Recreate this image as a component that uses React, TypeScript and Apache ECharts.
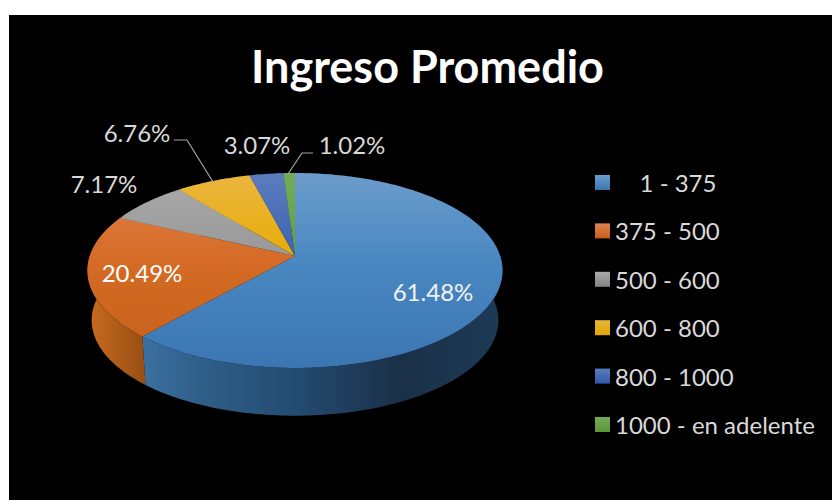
import React, { useEffect, useRef } from "react";
import * as echarts from "echarts";

const categories = ["1 - 375", "375 - 500", "500 - 600", "600 - 800", "800 - 1000", "1000 - en adelente"];
const shares = [61.48, 20.49, 7.17, 6.76, 3.07, 1.02];
const titleText = "Ingreso Promedio";

const FONT = "Lato";
const W = 832;
const H = 500;

const topColors = [
  ["#6c9ccb", "#4a88c2", "#3b76b2"],
  ["#e08250", "#d56b25", "#c5601a"],
  ["#aaaaaa", "#989898", "#828282"],
  ["#eab63f", "#e8ab05", "#e0a400"],
  ["#5c7cbe", "#3a62b0", "#2f58a6"],
  ["#73ab58", "#62a03f", "#5a9638"],
];
const wallStops = [
  [[0, "#3b70a0"], [0.16, "#2f5f88"], [0.44, "#234a6f"], [0.71, "#1a3048"], [1, "#1e3a56"]],
  [[0, "#c96c20"], [0.5, "#b25d1a"], [1, "#9a5014"]],
  [[0, "#6a6a6a"], [1, "#555555"]],
  [[0, "#a87c00"], [1, "#8a6600"]],
  [[0, "#2a4680"], [1, "#223a6a"]],
  [[0, "#44702c"], [1, "#385c24"]],
];
const labelLayout = [
  { x: 433, y: 291, color: "#f2f2f2" },
  { x: 142, y: 272, color: "#ffffff" },
  { x: 104, y: 183, color: "#d9d9d9" },
  { x: 137, y: 132, color: "#d9d9d9" },
  { x: 257, y: 144, color: "#d9d9d9" },
  { x: 352, y: 144, color: "#d9d9d9" },
];
const leaderLines: Record<number, number[][]> = {
  3: [[174, 140], [187, 140], [213, 182]],
  5: [[313, 153], [302, 153], [288, 174]],
};

// Perspective of the disc: apex position, semi axes and foreshortening.
const APEX_X = 295;
const APEX_Y = 256;
const A = 205.2;
const B = 95.3;
const K = -0.1487;
const BOTTOM_SCALE = 0.98;
const BOTTOM_APEX_Y = 306;
const TOP_Y0 = 173;
const TOP_Y1 = 369;

function project(theta: number, radius: number, scale: number, apexY: number) {
  const u = Math.sin(theta) * radius;
  const v = -Math.cos(theta) * radius;
  const d = 1 + K * v;
  return [APEX_X + (scale * A * u) / d, apexY + (scale * B * v) / d];
}

function arcPoints(a0: number, a1: number, scale: number, apexY: number) {
  const n = Math.max(2, Math.ceil(((a1 - a0) * 180) / Math.PI));
  const pts: number[][] = [];
  for (let i = 0; i <= n; i++) pts.push(project(a0 + ((a1 - a0) * i) / n, 1, scale, apexY));
  return pts;
}

const total = shares.reduce((s, v) => s + v, 0);
const startAngles: number[] = [];
shares.reduce((acc, v, i) => {
  startAngles[i] = (acc / total) * Math.PI * 2;
  return acc + v;
}, 0);

export default function App() {
  const ref = useRef<HTMLDivElement>(null);
  useEffect(() => {
    const chart = echarts.init(ref.current!, undefined, { renderer: "svg" });

    const angleRange = (i: number, value: number) => {
      const a0 = startAngles[i];
      return [a0, a0 + (value / total) * Math.PI * 2];
    };

    const wallSeries = shares.map((v, i) => ({
      type: "custom",
      name: "wall-" + i,
      coordinateSystem: "none",
      silent: true,
      z: 2,
      data: [[v]],
      renderItem: (_p: any, api: any) => {
        const [a0, a1] = angleRange(i, api.value(0));
        const upper = arcPoints(a0, a1, 1, APEX_Y);
        const lower = arcPoints(a0, a1, BOTTOM_SCALE, BOTTOM_APEX_Y);
        const x0 = Math.min(...upper.map((p) => p[0]));
        const x1 = Math.max(...upper.map((p) => p[0]));
        const fill = new echarts.graphic.LinearGradient(
          x0, 0, x1, 0,
          wallStops[i].map(([offset, color]) => ({ offset: offset as number, color: color as string })),
          true
        );
        return {
          type: "polygon",
          shape: { points: upper.concat(lower.reverse()) },
          style: { fill },
        };
      },
    }));

    const topSeries = shares.map((v, i) => ({
      type: "custom",
      name: categories[i],
      coordinateSystem: "none",
      silent: true,
      z: 3,
      data: [[v]],
      itemStyle: { color: topColors[i][1] },
      renderItem: (_p: any, api: any) => {
        const value = api.value(0);
        const [a0, a1] = angleRange(i, value);
        const fill = new echarts.graphic.LinearGradient(
          0, TOP_Y0, 0, TOP_Y1,
          [
            { offset: 0, color: topColors[i][0] },
            { offset: 0.45, color: topColors[i][1] },
            { offset: 1, color: topColors[i][2] },
          ],
          true
        );
        const children: any[] = [
          {
            type: "polygon",
            shape: { points: [[APEX_X, APEX_Y], ...arcPoints(a0, a1, 1, APEX_Y)] },
            style: { fill },
          },
        ];
        return { type: "group", children };
      },
    }));

    const labelSeries = {
      type: "custom",
      name: "labels",
      coordinateSystem: "none",
      silent: true,
      z: 5,
      data: shares.map((v) => [v]),
      renderItem: (p: any, api: any) => {
        const i = p.dataIndex;
        const l = labelLayout[i];
        const children: any[] = [
          {
            type: "text",
            style: {
              x: l.x,
              y: l.y,
              text: api.value(0).toFixed(2) + "%",
              fill: l.color,
              font: `400 24px ${FONT}`,
              align: "center",
              verticalAlign: "middle",
            },
          },
        ];
        if (leaderLines[i]) {
          children.push({
            type: "polyline",
            shape: { points: leaderLines[i] },
            style: { stroke: "#a6a6a6", lineWidth: 1.2, fill: "none" },
          });
        }
        return { type: "group", children };
      },
    };

    chart.setOption({
      animation: false,
      backgroundColor: "#ffffff",
      title: {
        text: titleText,
        left: 422.5,
        top: 38,
        textAlign: "center",
        textStyle: { color: "#ffffff", fontFamily: FONT, fontWeight: 700, fontSize: 45 },
      },
      legend: {
        orient: "vertical",
        left: 595,
        top: 169.5,
        padding: 0,
        itemGap: 22.4,
        itemWidth: 15,
        itemHeight: 15,
        selectedMode: false,
        icon: "rect",
        formatter: (name: string) => (name === categories[0] ? "\u00A0\u00A0\u00A0\u00A0" + name : name),
        textStyle: { color: "#d9d9d9", fontFamily: FONT, fontSize: 24, lineHeight: 26 },
        data: categories.map((name, i) => ({
          name,
          itemStyle: {
            color: new echarts.graphic.LinearGradient(0, 0, 0, 1, [
              { offset: 0, color: topColors[i][0] },
              { offset: 1, color: topColors[i][2] },
            ]),
          },
        })),
      },
      graphic: [
        {
          type: "rect",
          z: -10,
          silent: true,
          shape: { x: 9, y: 15, width: W - 9, height: H - 15 },
          style: { fill: "#000000" },
        },
      ],
      series: [...wallSeries, ...topSeries, labelSeries],
    });
    return () => chart.dispose();
  }, []);
  return <div ref={ref} style={{ position: "fixed", left: 0, top: 0, width: W, height: H }} />;
}
